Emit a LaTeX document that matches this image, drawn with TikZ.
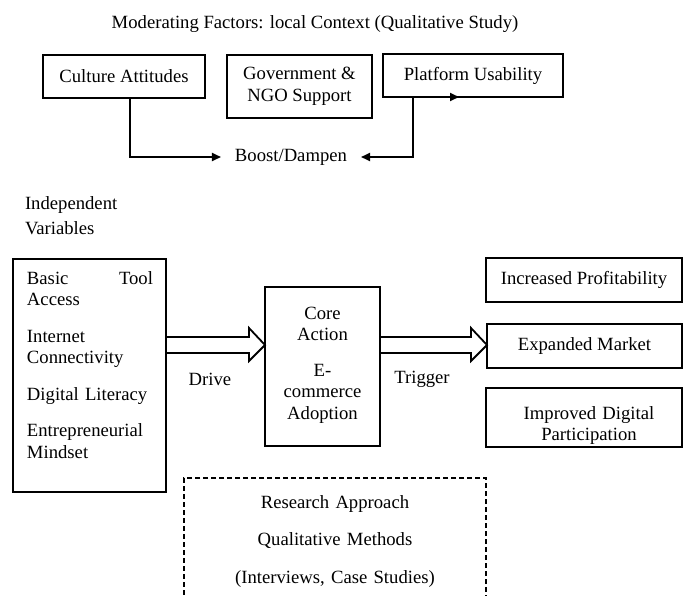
\documentclass[tikz,border=0pt]{standalone}
\usepackage{fontspec}
\setmainfont{Liberation Serif}
\usetikzlibrary{arrows.meta,calc}
\begin{document}
\begin{tikzpicture}[x=1pt,y=-1pt,
  every node/.style={font=\fontsize{18.67}{21.5}\selectfont, inner sep=0pt, outer sep=0pt},
  boxline/.style={line width=2pt},
  box/.style={boxline, draw, minimum width=#1, align=center},
  hollow/.style={line width=1.8pt, line join=miter},
  conn/.style={line width=2pt, -{Triangle[length=9pt,width=8pt]}},
  dbox/.style={line width=2pt, dash pattern=on 5pt off 3pt}]
\useasboundingbox (0,0) rectangle (683,595);

% top: moderating factors
\node[anchor=base] (title) at (315,28) {Moderating Factors: local Context (Qualitative Study)};
\node[box=162pt, minimum height=43pt] (cult) at (124,76.5) {Culture Attitudes};
\node[box=145pt, minimum height=63pt] (gov) at (299.5,86.5) {Government \&\\NGO Support};
\node[box=180pt, minimum height=43pt] (plat) at (473,75.5) {Platform Usability};
\node[inner xsep=14pt, inner ysep=2pt] (boost) at (291,157) {Boost/Dampen};
\draw[conn] ([xshift=6pt]cult.south) |- (boost.west);
\draw[conn] ([xshift=-60pt]plat.south) |- (boost.east);
\draw[conn] ([xshift=-60pt]plat.south) -- ([xshift=-14pt]plat.south);

% independent variables
\node[anchor=base west, text width=140pt, align=left] (iv) at (25,209) {Independent\\[3.5pt]Variables};
\node[boxline, draw, minimum width=153pt, minimum height=233pt] (lb) at (89.5,375.5) {};
\node[anchor=base west, text width=126pt, align=left] (lbt) at (27,284)
  {Basic\hfill Tool\\Access\\[15pt]Internet\\Connectivity\\[15pt]Digital Literacy\\[15pt]Entrepreneurial\\Mindset};

% core action
\node[boxline, draw, minimum width=115pt, minimum height=159pt] (core) at (322.5,366.5) {};
\node[anchor=base, text width=110pt, align=center] (coret) at (322.5,319)
  {Core\\Action\\[14pt]E-\\commerce\\Adoption};

% outcomes
\node[box=196pt, minimum height=44pt] (inc) at (584,280) {Increased Profitability};
\node[box=195pt, minimum height=44pt] (exp) at (584.5,346) {Expanded Market};
\node[boxline, draw, minimum width=196pt, minimum height=59pt] (imp) at (584,417.5) {};
\node[anchor=base, text width=190pt, align=center] (impt) at (589,419) {Improved Digital\\Participation};
\draw[boxline] (imp.south west) -- (imp.south east);

% hollow arrows
\coordinate (tipD) at (core.west |- 0,345);
\draw[hollow] (lb.east |- 0,337) -- ($(tipD)+(-16,-8)$) -- ($(tipD)+(-16,-17)$) -- (tipD)
  -- ($(tipD)+(-16,16)$) -- ($(tipD)+(-16,8)$) -- (lb.east |- 0,353);
\node[anchor=base] (drive) at (210,385) {Drive};
\coordinate (tipT) at (exp.west |- 0,345);
\draw[hollow] (core.east |- 0,337) -- ($(tipT)+(-16,-8)$) -- ($(tipT)+(-16,-17)$) -- (tipT)
  -- ($(tipT)+(-16,16)$) -- ($(tipT)+(-16,8)$) -- (core.east |- 0,353);
\node[anchor=base] (trig) at (422,383) {Trigger};

% research approach
\node[dbox, draw, minimum width=302pt, minimum height=124pt] (ra) at (335,540) {};
\node[anchor=base, text width=300pt, align=center] (rat) at (335,508)
  {Research Approach\\[16pt]Qualitative Methods\\[16pt](Interviews, Case Studies)};
\end{tikzpicture}
\end{document}
